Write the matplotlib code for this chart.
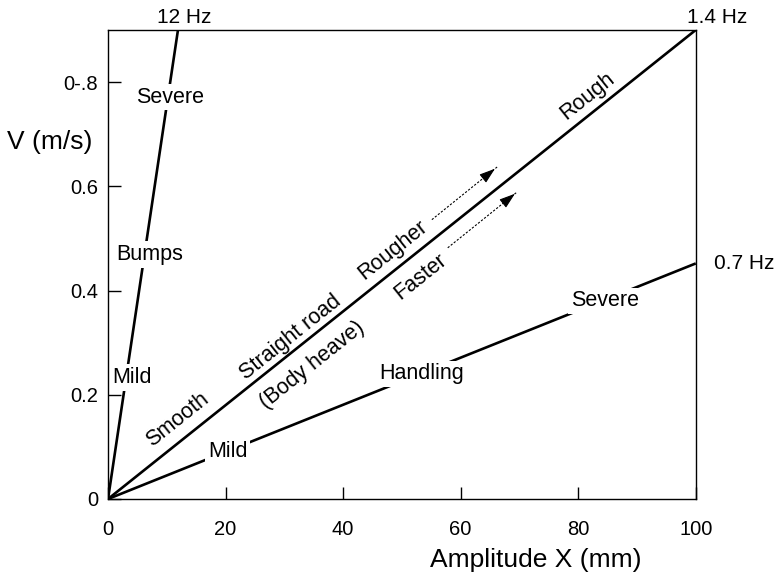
import numpy as np
import matplotlib.pyplot as plt

plt.rcParams['font.family'] = ['Liberation Sans', 'DejaVu Sans']

# lines: amplitude (mm) vs velocity (m/s), from the origin
line_names = ['12 Hz', '1.4 Hz', '0.7 Hz']
line_x = [[0, 11.9], [0, 100], [0, 100]]
line_y = [[0, 0.9], [0, 0.9], [0, 0.452]]

# labels that sit on the lines (cut through them)
gap_labels = ['Severe', 'Bumps', 'Mild', 'Mild', 'Handling', 'Severe']
gap_x = [10.5, 7.1, 4.1, 20.4, 53.4, 84.5]
gap_y = [0.771, 0.469, 0.233, 0.092, 0.24, 0.38]

# labels along the 1.4 Hz line
side_labels = ['Smooth', 'Straight road', '(Body heave)', 'Rougher', 'Faster', 'Rough']
side_x = [11.9, 31.0, 34.7, 48.5, 53.1, 81.6]
side_y = [0.152, 0.31, 0.257, 0.478, 0.426, 0.774]

# dashed arrows (start, end)
arrow_start = [(55.1, 0.536), (57.8, 0.482)]
arrow_end = [(66.2, 0.637), (69.6, 0.589)]

xticks = [0, 20, 40, 60, 80, 100]
yticks = [0, 0.2, 0.4, 0.6, 0.8]
ytick_labels = ['0', '0.2', '0.4', '0.6', '0-.8']

fig = plt.figure(figsize=(7.8, 5.76), dpi=100)
ax = fig.add_axes([0.1385, 0.1337, 0.7535, 0.8143])

for xs, ys in zip(line_x, line_y):
    ax.plot(xs, ys, color='black', lw=1.9, solid_capstyle='butt', zorder=2)

ax.set_xlim(0, 100)
ax.set_ylim(0, 0.9)
ax.set_xticks(xticks)
ax.set_yticks(yticks)
ax.set_yticklabels(ytick_labels)
ax.tick_params(direction='in', length=9, width=1, labelsize=14.5)
ax.tick_params(axis='x', pad=15)
ax.tick_params(axis='y', pad=7)
for s in ax.spines.values():
    s.set_linewidth(1.0)

ax.set_xlabel('Amplitude X (mm)', fontsize=19, va='center')
ax.xaxis.set_label_coords(0.728, -0.130)
ax.set_ylabel('V (m/s)', fontsize=19, rotation=0, va='center', ha='center')
ax.yaxis.set_label_coords(-0.0986, 0.761)

# frequency labels at line ends
ax.text(12.9, 0.905, line_names[0], fontsize=15, ha='center', va='bottom')
ax.text(103.6, 0.905, line_names[1], fontsize=15, ha='center', va='bottom')
ax.text(103.1, line_y[2][1], line_names[2], fontsize=15, ha='left', va='center')

for t, x, y in zip(gap_labels, gap_x, gap_y):
    ax.text(x, y, t, fontsize=15.5, ha='center', va='center', zorder=3,
            bbox=dict(facecolor='white', edgecolor='none', pad=2))

# angle of the 1.4 Hz line on screen
p0 = ax.transData.transform((0, 0))
p1 = ax.transData.transform((100, 0.9))
ang = np.degrees(np.arctan2(p1[1] - p0[1], p1[0] - p0[0]))

for t, x, y in zip(side_labels, side_x, side_y):
    ax.text(x, y, t, fontsize=15.5, ha='center', va='center', rotation=ang,
            rotation_mode='anchor', zorder=3)

for (x0, y0), (x1, y1) in zip(arrow_start, arrow_end):
    ax.plot([x0, x1], [y0, y1], color='black', lw=0.8, ls=(0, (2, 1.5)))
    ax.annotate('', xy=(x1, y1), xytext=(x0 + 0.8 * (x1 - x0), y0 + 0.8 * (y1 - y0)),
                arrowprops=dict(arrowstyle='-|>,head_length=0.6,head_width=0.2',
                                color='black', lw=0.8, mutation_scale=16))

fig.savefig('out.png', dpi=100)
